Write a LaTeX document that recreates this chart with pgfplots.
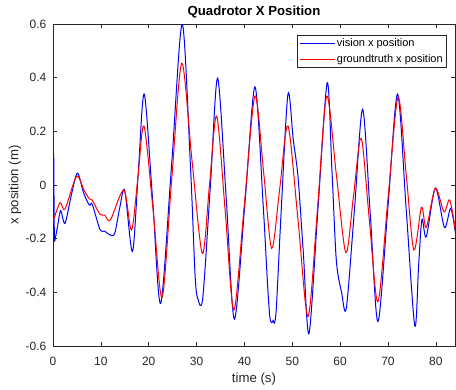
\documentclass[border=0pt]{standalone}
\usepackage{pgfplots}
\pgfplotsset{compat=1.18}
\usepackage{fontspec}
\setmainfont{Liberation Sans}
\definecolor{axgray}{gray}{0.15}
\begin{document}
\begin{tikzpicture}
\begin{axis}[
  at={(0,0)}, anchor=south west,
  scale only axis, width=402pt, height=322pt,
  xmin=0, xmax=84, ymin=-0.6, ymax=0.6,
  xtick={0,10,20,30,40,50,60,70,80},
  ytick={-0.6,-0.4,-0.2,0,0.2,0.4,0.6},
  yticklabels={-0.6,-0.4,-0.2,0,0.2,0.4,0.6},
  /pgf/number format/assume math mode=true,
  tick align=inside, major tick length=4pt,
  tick style={draw=axgray, line width=0.5pt},
  axis line style={draw=axgray, line width=0.6pt},
  every tick label/.append style={font=\fontsize{12}{14}\selectfont, text=axgray},
  xticklabel style={inner sep=0pt, anchor=north, yshift=-10.5pt},
  yticklabel style={inner sep=0pt, anchor=east, xshift=-6.5pt},
  xlabel={time (s)}, ylabel={x position (m)},
  xlabel style={at={(axis description cs:0.5,-0.1025)}, anchor=center, font=\fontsize{13.2}{15}\selectfont, text=axgray},
  ylabel style={at={(axis description cs:-0.0945,0.5)}, anchor=center, rotate=0, font=\fontsize{13.2}{15}\selectfont, text=axgray},
  title={Quadrotor X Position},
  every axis title shift=0pt,
  title style={at={(axis description cs:0.5,1.0373)}, anchor=center, yshift=0pt, font=\bfseries\fontsize{13.2}{15}\selectfont, text=black},
  legend style={at={(0.980,0.966)}, anchor=north east, draw=axgray, line width=0.5pt,
    font=\fontsize{11}{13}\selectfont, inner xsep=2.5pt, inner ysep=1.5pt, row sep=2.5pt,
    nodes={inner sep=1.5pt, text height=8pt, text depth=2.5pt}},
  legend cell align=left,
  legend image code/.code={\draw[#1, line width=0.6pt] (0pt,0pt) -- (35pt,0pt);},
]
\addplot[blue, line width=1pt, sharp plot, forget plot] coordinates {
(0.15,0.12) (0.25,-0.15) (0.35,-0.21)
};
\addplot[blue, line width=1pt, smooth] coordinates {
(0.35,-0.21) (0.9,-0.16) (1.6,-0.096) (2.5,-0.143)
(3.8,-0.04) (5.1,0.044) (6.4,-0.03) (7.6,-0.075) (8.2,-0.072) (9.8,-0.165)
(10.8,-0.172) (11.9,-0.186) (12.9,-0.18) (14.0,-0.08) (15.0,-0.021) (16.6,-0.248)
(17.8,0.04) (19.06,0.339) (20.8,-0.05) (22.5,-0.441) (24.8,0.08) (27.0,0.60)
(28.7,0.08) (29.7,-0.34) (30.3,-0.426) (31.3,-0.42) (32.9,0.0) (34.4,0.398) (36.2,-0.05)
(37.9,-0.50) (40.1,-0.07) (42.2,0.366) (43.9,-0.07) (44.8,-0.36) (45.3,-0.49) (45.7,-0.513)
(46.0,-0.505) (46.3,-0.513) (46.7,-0.45)
(47.7,-0.09) (49.1,0.339) (50.2,0.17) (51.2,0.03) (52.3,-0.25) (53.5,-0.553)
(55.4,-0.08) (57.3,0.381) (58.3,0.05) (59.2,-0.28) (60.3,-0.40) (61.3,-0.458)
(63.0,-0.09) (64.7,0.282) (66.3,-0.11) (67.9,-0.509) (70.0,-0.08) (72.0,0.339)
(73.8,-0.09) (75.6,-0.525) (76.4,-0.3) (77.1,-0.128) (78.0,-0.193) (79.9,-0.012)
(81.8,-0.158) (83.1,-0.087) (84.1,-0.18)
};
\addlegendentry{vision x position}
\addplot[red, line width=1pt, smooth] coordinates {
(0,-0.137) (1.46,-0.066) (2.5,-0.09) (4.9,0.031) (6.5,-0.02) (7.6,-0.052)
(8.2,-0.056) (9.8,-0.109) (10.8,-0.112) (12.0,-0.13) (14.8,-0.019) (16.4,-0.168)
(17.7,0.02) (19.0,0.22) (20.9,-0.09) (22.8,-0.419) (24.8,0.02) (26.9,0.454)
(29.0,0.1) (31.2,-0.255) (32.7,0.0) (34.2,0.257) (36.0,-0.1) (37.8,-0.466)
(40.0,-0.07) (42.2,0.331) (44.0,0.05) (45.7,-0.236) (47.4,-0.01) (49.1,0.22)
(51.2,-0.13) (53.3,-0.49) (55.3,-0.08) (57.2,0.331) (59.2,0.04) (61.2,-0.252)
(62.8,-0.04) (64.4,0.174) (66.1,-0.13) (67.9,-0.435) (70.0,-0.05) (72.1,0.327)
(73.8,0.04) (75.4,-0.242) (77.0,-0.083) (78.0,-0.158) (79.9,-0.012) (81.7,-0.1)
(82.9,-0.056) (84.1,-0.17)
};
\addlegendentry{groundtruth x position}
\end{axis}
\pgfresetboundingbox
\path (-53pt,-44pt) rectangle (403pt,346pt);
\end{tikzpicture}
\end{document}
